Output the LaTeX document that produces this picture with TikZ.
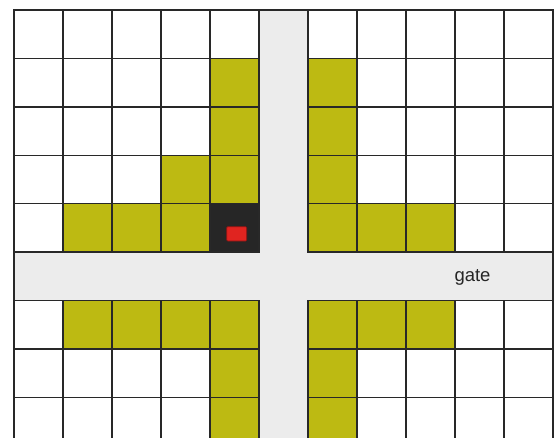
\documentclass[tikz,border=0pt]{standalone}
\usepackage{fontspec}
\setmainfont{Liberation Sans}
\definecolor{roadgray}{RGB}{236,236,236}
\definecolor{olive}{RGB}{189,186,18}
\definecolor{darkcell}{RGB}{38,38,38}
\definecolor{gridline}{RGB}{40,40,40}
\definecolor{redbox}{RGB}{224,36,32}
\definecolor{rededge}{RGB}{140,20,18}
\tikzset{
  cellbox/.style={draw=gridline, line width=1.4pt},
  yellowcell/.style={cellbox, fill=olive},
  darkbox/.style={cellbox, fill=darkcell},
  roadfill/.style={fill=roadgray, draw=none},
  border/.style={draw=gridline, line width=1.4pt},
  gatelabel/.style={font=\fontsize{18.5}{20}\selectfont, text=black!85, inner sep=0pt},
  robot/.style={fill=redbox, draw=rededge, line width=0.6pt, rounded corners=1pt}
}
\begin{document}
\begin{tikzpicture}[x=1pt,y=-1pt]
\useasboundingbox (0,0) rectangle (559,437);
\fill[white] (0,0) rectangle (559,437);
\begin{scope}
\clip (0,0) rectangle (559,437);
% roads
\fill[roadfill] (259,10) rectangle (308,460);
\fill[roadfill] (14,252) rectangle (553,300.4);
% all cells white with borders
\foreach \i in {0,1,2,3,4,6,7,8} {
  \foreach \c in {0,1,2,3,4,6,7,8,9,10} {
    \draw[cellbox, fill=white] ({14+49*\c},{10+48.4*\i}) rectangle ++(49,48.4);
  }
}
% yellow cells
\foreach \i/\c in {1/4,1/6,2/4,2/6,3/3,3/4,3/6,4/1,4/2,4/3,4/6,4/7,4/8,6/1,6/2,6/3,6/4,6/6,6/7,6/8,7/4,7/6,8/4,8/6} {
  \draw[yellowcell] ({14+49*\c},{10+48.4*\i}) rectangle ++(49,48.4);
}
% dark cell with robot
\draw[darkbox] (210,203.6) rectangle ++(49,48.4);
\draw[robot] (226.7,226.7) rectangle (246.7,241);
% outer border
\draw[border] (14,460) -- (14,10) -- (553,10) -- (553,460);
\end{scope}
\node[gatelabel] (gate) at (472.5,277) {gate};
\end{tikzpicture}
\end{document}
